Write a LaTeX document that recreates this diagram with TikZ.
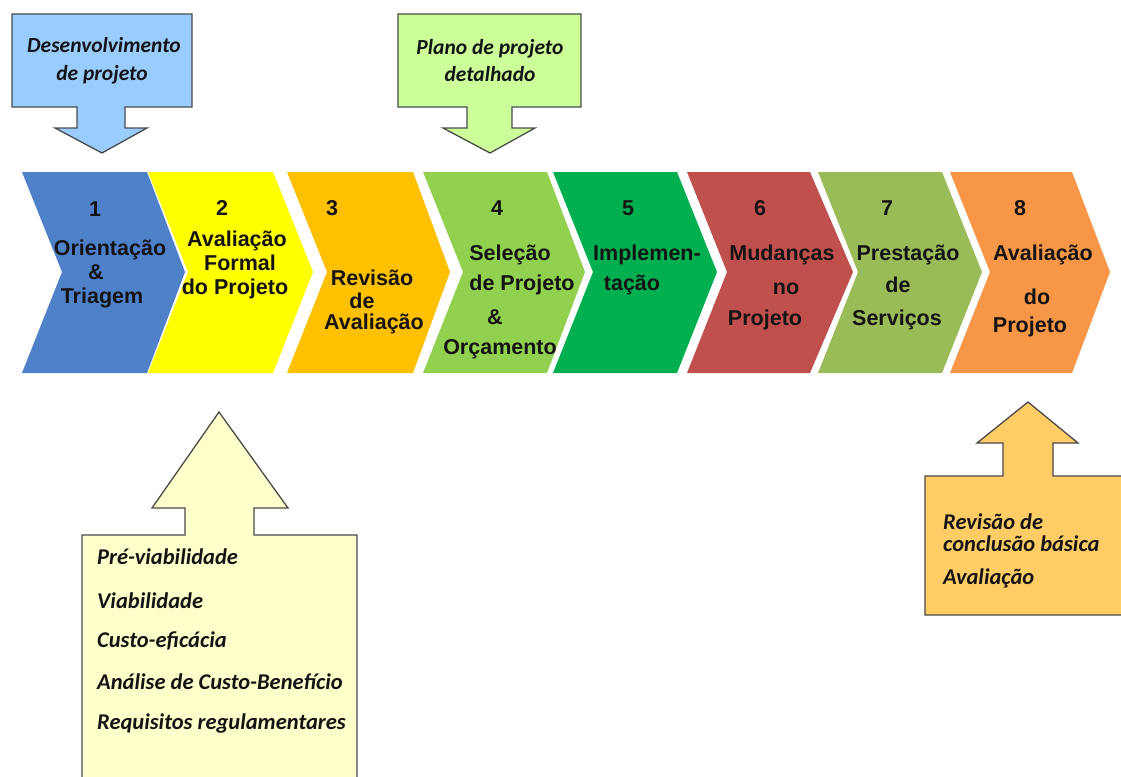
\documentclass[tikz,border=0pt]{standalone}
\usepackage{fontspec}
\newfontfamily\arialf{Liberation Sans}
\newfontfamily\calf{Carlito}
\definecolor{c1}{HTML}{4F81C9}
\definecolor{c2}{HTML}{FFFF00}
\definecolor{c3}{HTML}{FFC000}
\definecolor{c4}{HTML}{92D050}
\definecolor{c5}{HTML}{00B050}
\definecolor{c6}{HTML}{C0504D}
\definecolor{c7}{HTML}{9BBB59}
\definecolor{c8}{HTML}{F79646}
\definecolor{cbl}{HTML}{99CCFF}
\definecolor{cgr}{HTML}{CCFF99}
\definecolor{cye}{HTML}{FFFFCC}
\definecolor{cor}{HTML}{FFCC66}
\definecolor{edge}{HTML}{4A4A4A}
\definecolor{txt}{HTML}{141414}
\begin{document}
\begin{tikzpicture}[x=1pt,y=-1pt,
  steptxt/.style={font=\arialf\bfseries\fontsize{21.5}{24}\selectfont, text=txt, inner sep=0pt, anchor=mid},
  calltxt/.style={font=\calf\bfseries\itshape\fontsize{21.5}{28}\selectfont, text=txt, inner sep=0pt, anchor=mid},
  listtxt/.style={font=\calf\bfseries\itshape\fontsize{22.5}{26}\selectfont, text=txt, inner sep=0pt, anchor=mid west},
  callout/.style={draw=edge, line width=1.3pt, line join=miter}]
\useasboundingbox (0,0) rectangle (1121,776);
\clip (0,0) rectangle (1121,776);
\fill[white] (0,0) rectangle (1121,776);
% chevrons
\foreach \L/\R/\P/\c in {22/147/185/c1, 148/273/313/c2, 287/413/450/c3, 423/547/585/c4, 553/677/717/c5, 687/810/853/c6, 818/942/982/c7, 950/1072/1110/c8}{
  \fill[\c] (\L,172) -- (\R,172) -- (\P,272) -- (\R,373) -- (\L,373) -- ({\L+40},272) -- cycle;
}
% chevron 1
\node[steptxt] (n1) at (95,214) {1};
\node[steptxt] (t1a) at (110,253) {Orientação};
\node[steptxt] (t1b) at (96,277) {\&};
\node[steptxt] (t1c) at (102,301) {Triagem};
% chevron 2
\node[steptxt] (n2) at (222,213) {2};
\node[steptxt] (t2a) at (237,244) {Avaliação};
\node[steptxt] (t2b) at (240,268) {Formal};
\node[steptxt] (t2c) at (235,292) {do Projeto};
% chevron 3
\node[steptxt] (n3) at (332,213) {3};
\node[steptxt] (t3a) at (372,283) {Revisão};
\node[steptxt] (t3b) at (362,306) {de};
\node[steptxt] (t3c) at (374,327) {Avaliação};
% chevron 4
\node[steptxt] (n4) at (497,213) {4};
\node[steptxt] (t4a) at (510,258) {Seleção};
\node[steptxt] (t4b) at (522,288) {de Projeto};
\node[steptxt] (t4c) at (495,322) {\&};
\node[steptxt] (t4d) at (500,352) {Orçamento};
% chevron 5
\node[steptxt] (n5) at (628,213) {5};
\node[steptxt] (t5a) at (647,258) {Implemen-};
\node[steptxt] (t5b) at (632,288) {tação};
% chevron 6
\node[steptxt] (n6) at (760,213) {6};
\node[steptxt] (t6a) at (782,258) {Mudanças};
\node[steptxt] (t6b) at (786,292) {no};
\node[steptxt] (t6c) at (765,323) {Projeto};
% chevron 7
\node[steptxt] (n7) at (887,213) {7};
\node[steptxt] (t7a) at (908,258) {Prestação};
\node[steptxt] (t7b) at (898,290) {de};
\node[steptxt] (t7c) at (897,323) {Serviços};
% chevron 8
\node[steptxt] (n8) at (1020,213) {8};
\node[steptxt] (t8a) at (1043,258) {Avaliação};
\node[steptxt] (t8b) at (1037,302) {do};
\node[steptxt] (t8c) at (1030,330) {Projeto};
% callout top-left
\draw[callout, fill=cbl] (12,14) -- (192,14) -- (192,107) -- (125,107) -- (125,128) -- (147,128) -- (102,153) -- (55,128) -- (77,128) -- (77,107) -- (12,107) -- cycle;
\node[calltxt] (ca) at (104,50) {Desenvolvimento};
\node[calltxt] (cb) at (102,78) {de projeto};
% callout top-middle
\draw[callout, fill=cgr] (398,14) -- (581,14) -- (581,107) -- (512,107) -- (512,128) -- (535,128) -- (490,153) -- (443,128) -- (467,128) -- (467,107) -- (398,107) -- cycle;
\node[calltxt] (pa) at (490,52) {Plano de projeto};
\node[calltxt] (pb) at (490,79) {detalhado};
% callout bottom-left
\draw[callout, fill=cye] (82,800) -- (82,535) -- (185,535) -- (185,508) -- (152,508) -- (219,412) -- (288,508) -- (254,508) -- (254,535) -- (357,535) -- (357,800) -- cycle;
\node[listtxt] (la) at (97,562) {Pré-viabilidade};
\node[listtxt] (lb) at (97,606) {Viabilidade};
\node[listtxt] (lc) at (97,645) {Custo-eficácia};
\node[listtxt] (ld) at (97,687) {Análise de Custo-Benefício};
\node[listtxt] (le) at (97,727) {Requisitos regulamentares};
% callout bottom-right
\draw[callout, fill=cor] (1130,476) -- (1053,476) -- (1053,443) -- (1078,443) -- (1028,402) -- (977,443) -- (1003,443) -- (1003,476) -- (925,476) -- (925,615) -- (1130,615);
\node[listtxt] (ra) at (943,527) {Revisão de};
\node[listtxt] (rb) at (943,549) {conclusão básica};
\node[listtxt] (rc) at (943,582) {Avaliação};
\end{tikzpicture}
\end{document}
